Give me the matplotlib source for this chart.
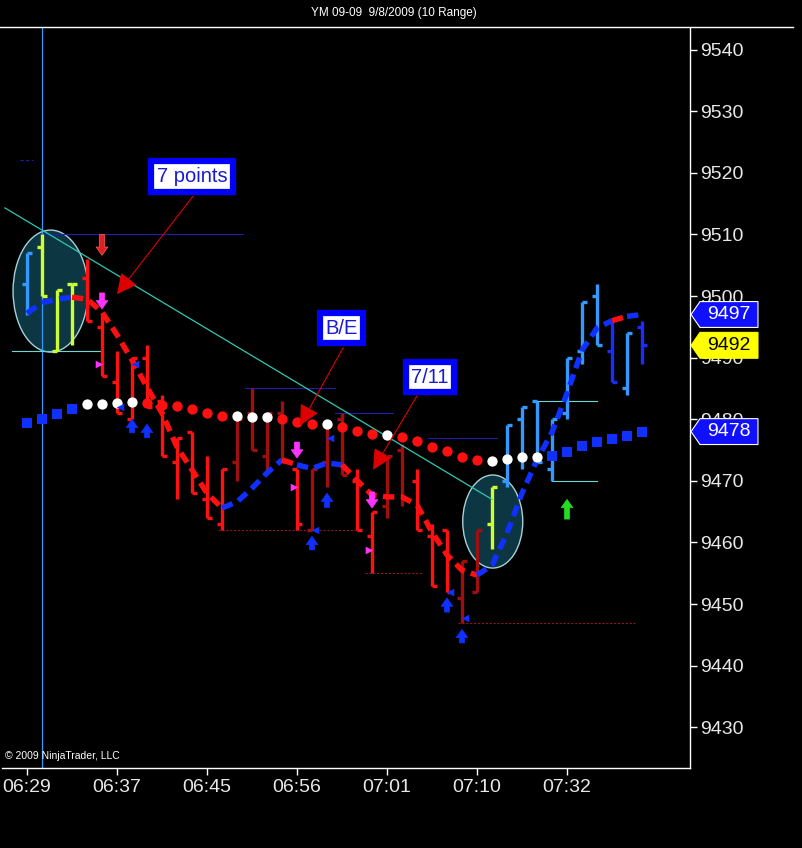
import matplotlib
matplotlib.use('Agg')
import matplotlib.pyplot as plt
from matplotlib.patches import Ellipse, Polygon
from matplotlib.transforms import blended_transform_factory

plt.rcParams['font.family'] = ['Liberation Sans', 'DejaVu Sans']

# ---- data (10 range bars, YM 09-09) ----
highs  = [9507, 9510, 9501, 9502, 9506, 9497, 9491, 9490, 9492, 9484,
          9477, 9478, 9474, 9472, 9480, 9485, 9481, 9483, 9472, 9472,
          9479, 9481, 9472, 9465, 9474, 9476, 9472, 9463, 9462, 9457,
          9462, 9469, 9479, 9482, 9483, 9480, 9490, 9499, 9502, 9496,
          9494, 9496]
lows   = [9497, 9500, 9491, 9492, 9496, 9487, 9481, 9480, 9482, 9474,
          9467, 9468, 9464, 9462, 9470, 9475, 9471, 9473, 9462, 9462,
          9469, 9471, 9462, 9455, 9464, 9466, 9462, 9453, 9452, 9447,
          9452, 9459, 9469, 9472, 9473, 9470, 9480, 9489, 9492, 9486,
          9484, 9489]
opens  = [9502, 9508, 9491, 9502, 9503, 9495, 9486, 9480, 9490, 9483,
          9473, 9478, 9467, 9463, 9473, 9481, 9474, 9481, 9472, 9462,
          9473, 9480, 9470, 9461, 9466, 9475, 9470, 9461, 9462, 9451,
          9452, 9463, 9470, 9480, 9483, 9472, 9481, 9491, 9500, 9491,
          9485, 9495]
closes = [9507, 9500, 9501, 9502, 9496, 9487, 9481, 9490, 9482, 9474,
          9477, 9468, 9464, 9472, 9480, 9475, 9481, 9473, 9463, 9472,
          9479, 9471, 9462, 9465, 9474, 9467, 9462, 9453, 9452, 9457,
          9462, 9469, 9479, 9482, 9473, 9480, 9490, 9499, 9492, 9486,
          9494, 9492]
bar_kind = ['lb', 'y', 'y', 'y', 'r', 'r', 'r', 'r', 'r', 'r',
            'r', 'r', 'r', 'r', 'dr', 'dr', 'dr', 'dr', 'r', 'dr',
            'dr', 'dr', 'r', 'r', 'dr', 'dr', 'r', 'r', 'r', 'dr',
            'dr', 'y', 'lb', 'lb', 'lb', 'lb', 'lb', 'lb', 'lb', 'b',
            'lb', 'b']

fast_ma = [9497.2, 9498.9, 9499.5, 9499.8, 9499.5, 9497.4, 9493.7, 9489.6, 9485.2, 9481.0,
           9475.5, 9471.8, 9468.0, 9465.6, 9466.6, 9468.8, 9471.3, 9473.4, 9472.6, 9472.0,
           9472.9, 9472.6, 9470.1, 9467.7, 9467.4, 9467.4, 9466.1, 9461.7, 9458.0, 9455.5,
           9454.7, 9456.3, 9461.5, 9468.0, 9473.4, 9477.9, 9484.2, 9491.2, 9494.8, 9496.0,
           9496.7, 9497.0]
# colour of each segment between consecutive points
fast_seg = ['b'] * 3 + ['r'] * 10 + ['b'] * 4 + ['r'] + ['b'] * 3 + ['r'] * 9 + ['b'] * 9 + ['r'] + ['b']

slow_ma = [9479.4, 9480.0, 9480.8, 9481.6, 9482.4, 9482.5, 9482.6, 9482.8, 9482.6, 9482.3,
           9482.1, 9481.6, 9481.0, 9480.5, 9480.5, 9480.4, 9480.4, 9480.0, 9479.5, 9479.2,
           9479.2, 9478.8, 9478.1, 9477.6, 9477.4, 9477.1, 9476.5, 9475.5, 9474.8, 9473.9,
           9473.4, 9473.2, 9473.5, 9473.9, 9473.9, 9474.0, 9474.7, 9475.6, 9476.3, 9476.8,
           9477.3, 9477.9]
slow_kind = (['b'] * 4 + ['w'] * 4 + ['r'] * 6 + ['w'] * 3 + ['r'] * 3 + ['w'] + ['r'] * 3 +
             ['w'] + ['r'] * 6 + ['w'] * 4 + ['b'] * 7)

tick_bars = [0, 6, 12, 18, 24, 30, 36]
tick_times = ['06:29', '06:37', '06:45', '06:56', '07:01', '07:10', '07:32']
price_ticks = list(range(9430, 9541, 10))

# signal arrows: (bar, tail price, tip price)
red_down = [(5, 9510.0, 9506.6)]
magenta_down = [(5, 9500.5, 9497.9), (18, 9476.3, 9473.7), (23, 9468.2, 9465.6)]
blue_up = [(7, 9477.8, 9480.0), (8, 9477.0, 9479.2), (19, 9458.8, 9461.0),
           (20, 9465.7, 9468.0), (28, 9448.7, 9451.0), (29, 9443.7, 9445.9)]
green_up = [(36, 9463.8, 9467.0)]
magenta_tri = [(5, 9489.0), (18, 9469.0), (23, 9458.8)]
blue_tri = [(7, 9489.0), (6, 9482.0), (19, 9462.0), (20, 9477.0), (28, 9452.0), (29, 9447.7)]

# horizontal levels: (price, bar from, bar to, style)
levels = [(9522, -0.5, 0.4, 'navy_d'), (9510, 1.0, 14.4, 'navy'), (9491, -1.0, 5.0, 'cyan'),
          (9485, 14.5, 20.5, 'navy'), (9481, 20.5, 24.4, 'navy'), (9477, 26.7, 31.3, 'navy'),
          (9462, 12.7, 22.2, 'dred'), (9455, 22.5, 26.4, 'dred'), (9447, 28.7, 40.5, 'dred'),
          (9483, 34.0, 38.0, 'cyan'), (9470, 35.0, 38.0, 'cyan')]
trend_x = [-1.47, 31.0]
trend_y = [9514.3, 9467.0]
# ellipses: (center bar, center price, width bars, height points)
circles = [(1.57, 9500.8, 5.0, 19.8), (31.05, 9463.4, 4.0, 15.1)]
# callouts: (text, box bar, box price, arrow start bar/price, arrow tip bar/price)
callouts = [('7 points', 11.0, 9519.4, 11.07, 9516.2, 6.0, 9500.3),
            ('B/E', 20.97, 9494.8, 21.07, 9491.6, 18.2, 9479.0),
            ('7/11', 26.87, 9486.8, 26.0, 9483.8, 23.07, 9471.8)]
# price tags on the axis: (value, face, text colour)
tags = [(9497, '#1010ff', 'white'), (9492, '#ffff00', 'black'), (9478, '#1010ff', 'white')]

bar_colors = {'lb': '#3399ff', 'y': '#ccff33', 'r': '#ff1111', 'dr': '#a00f0f', 'b': '#1a2cff'}
ma_colors = {'r': '#ff1010', 'b': '#1030ff', 'w': 'white'}
level_styles = {'navy': ('#1c1cb4', '-'), 'navy_d': ('#1c1cb4', (0, (3, 2))),
                'cyan': ('#66d9d9', '-'), 'dred': ('#8b1a1a', (0, (2, 1.5)))}

fig = plt.figure(figsize=(8.03, 8.48), dpi=100, facecolor='black')
ax = fig.add_axes([2 / 803, 80 / 848, 688 / 803, 740 / 848], facecolor='black')
ax.set_xlim(-1.667, 44.2)
ax.set_ylim(9423.4, 9543.5)

# ellipses behind everything
for cx, cy, w, h in circles:
    ax.add_patch(Ellipse((cx, cy), w, h, facecolor='#0c3642', edgecolor='#a8d0d8', lw=1.0, zorder=1))

# vertical cursor line
ax.axvline(1, color='#3399ff', lw=0.9, zorder=1.5)

for p, x0, x1, st in levels:
    c, ls = level_styles[st]
    ax.plot([x0, x1], [p, p], color=c, ls=ls, lw=0.8, zorder=1.5)

ax.plot(trend_x, trend_y, color='#30c8b0', lw=0.9, zorder=4.5)

# OHLC bars
tw = 0.36
for i in range(len(highs)):
    c = bar_colors[bar_kind[i]]
    ax.plot([i, i], [lows[i], highs[i]], color=c, lw=2.4, zorder=3, solid_capstyle='butt')
    ax.plot([i - tw, i], [opens[i], opens[i]], color=c, lw=2.4, zorder=3, solid_capstyle='butt')
    ax.plot([i, i + tw], [closes[i], closes[i]], color=c, lw=2.4, zorder=3, solid_capstyle='butt')

# fast MA, dashed, coloured by slope
start = 0
for k in range(1, len(fast_seg) + 1):
    if k == len(fast_seg) or fast_seg[k] != fast_seg[start]:
        xs = list(range(start, k + 1))
        ax.plot(xs, fast_ma[start:k + 1], color=ma_colors[fast_seg[start]], lw=3.9,
                dashes=(2.1, 1.2), dash_capstyle='butt', zorder=4)
        start = k

# slow MA as dots
for kind, mk, sz in [('b', 's', 42), ('w', 'o', 55), ('r', 'o', 55)]:
    xs = [i for i in range(len(slow_ma)) if slow_kind[i] == kind]
    ax.scatter(xs, [slow_ma[i] for i in xs], s=sz, marker=mk, color=ma_colors[kind],
               linewidths=0, zorder=5)


def arrow(x, y0, y1, color, ec=None):
    ax.annotate('', xy=(x, y1), xytext=(x, y0),
                arrowprops=dict(arrowstyle='simple,head_length=0.5,head_width=0.7,tail_width=0.3',
                                fc=color, ec=ec or color, lw=0.5, mutation_scale=12,
                                shrinkA=0, shrinkB=0), zorder=6)


for b, t0, t1 in red_down:
    arrow(b, t0, t1, '#e02020', '#ff6060')
for b, t0, t1 in magenta_down:
    arrow(b, t0, t1, '#ff33ff')
for b, t0, t1 in blue_up:
    arrow(b, t0, t1, '#1030ff')
for b, t0, t1 in green_up:
    arrow(b, t0, t1, '#22dd22')

ax.scatter([b - 0.2 for b, p in magenta_tri], [p for b, p in magenta_tri], marker='>', s=30,
           color='#ff33ff', linewidths=0, zorder=6)
ax.scatter([b + 0.2 for b, p in blue_tri], [p for b, p in blue_tri], marker='<', s=30,
           color='#1030ff', linewidths=0, zorder=6)

# callouts
for txt, bx, by, sx, sy, tx, ty in callouts:
    ax.annotate('', xy=(tx, ty), xytext=(sx, sy),
                arrowprops=dict(arrowstyle='-|>,head_length=0.7,head_width=0.35', color='#dd0000',
                                lw=0.8, mutation_scale=18, shrinkA=0, shrinkB=0), zorder=7)
    ax.text(bx, by, txt, color='#1a1ad0', fontsize=14.5, ha='center', va='center', zorder=8,
            bbox=dict(boxstyle='square,pad=0.28', facecolor='white', edgecolor='#0000ff', lw=4.5))

# axes styling
for s in ['top', 'left']:
    ax.spines[s].set_visible(False)
for s in ['right', 'bottom']:
    ax.spines[s].set_color('white')
    ax.spines[s].set_linewidth(1.0)
ax.yaxis.tick_right()
ax.set_yticks(price_ticks)
ax.set_yticklabels([str(p) for p in price_ticks])
ax.set_xticks(tick_bars)
ax.set_xticklabels(tick_times)
ax.tick_params(axis='y', colors='white', labelcolor='#e8e8e8', length=5, width=1, pad=2, labelsize=14)
ax.tick_params(axis='x', colors='white', labelcolor='#e8e8e8', length=5, width=1, pad=3, labelsize=14)

# price tags on the right axis
tr = blended_transform_factory(ax.transAxes, ax.transData)
half = 2.1
for val, face, tcol in tags:
    poly = Polygon([(1.0015, val), (1.0145, val + half), (1.0988, val + half),
                    (1.0988, val - half), (1.0145, val - half)], closed=True,
                   facecolor=face, edgecolor='white' if tcol == 'white' else face,
                   lw=0.8, transform=tr, clip_on=False, zorder=10)
    ax.add_patch(poly)
    ax.text(1.057, val, str(val), transform=tr, color=tcol, fontsize=14,
            ha='center', va='center', clip_on=False, zorder=11)

fig.text(0.49, 1 - 13 / 848, 'YM 09-09  9/8/2009 (10 Range)', color='white', fontsize=8.5,
         ha='center', va='center')
fig.add_artist(plt.Line2D([0, 793 / 803], [1 - 27 / 848, 1 - 27 / 848], color='white', lw=1.0,
                          transform=fig.transFigure))
ax.text(0.005, 0.01, '\u00a9 2009 NinjaTrader, LLC', transform=ax.transAxes, color='white',
        fontsize=7.5, family=['Liberation Sans Narrow', 'Liberation Sans'], ha='left', va='bottom')

fig.savefig('out.png', dpi=100, facecolor='black')
